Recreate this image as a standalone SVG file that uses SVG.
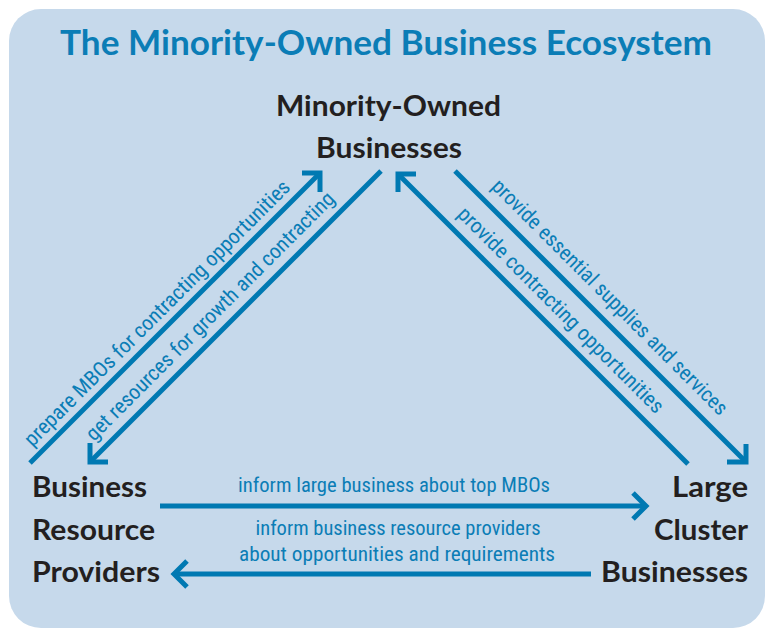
<svg xmlns="http://www.w3.org/2000/svg" width="766" height="629" viewBox="0 0 766 629">
<style>
.title{font-family:Lato,"Liberation Sans",sans-serif;font-weight:700;font-size:34px;fill:#0b7db6}
.node{font-family:Lato,"Liberation Sans",sans-serif;font-weight:700;font-size:28px;fill:#231f20}
.lab{font-family:"Liberation Sans Narrow","Roboto Condensed","Liberation Sans",sans-serif;font-size:21px;fill:#0b7db6}
.ln{stroke:#0079b2;stroke-width:5;fill:none;stroke-linecap:butt;stroke-linejoin:miter}
</style>
<rect width="766" height="629" fill="#ffffff"/>
<rect x="9" y="9" width="756" height="619" rx="32" fill="#c6d9eb"/>
<text class="title" x="386" y="55" text-anchor="middle" textLength="652" lengthAdjust="spacingAndGlyphs">The Minority-Owned Business Ecosystem</text>
<g id="mob">
<text class="node" x="388.5" y="116" text-anchor="middle" textLength="225" lengthAdjust="spacingAndGlyphs">Minority-Owned</text>
<text class="node" x="389" y="158" text-anchor="middle" textLength="146" lengthAdjust="spacingAndGlyphs">Businesses</text>
</g>
<g id="brp">
<text class="node" x="32" y="497" textLength="115" lengthAdjust="spacingAndGlyphs">Business</text>
<text class="node" x="32" y="540" textLength="123" lengthAdjust="spacingAndGlyphs">Resource</text>
<text class="node" x="32" y="582" textLength="128" lengthAdjust="spacingAndGlyphs">Providers</text>
</g>
<g id="lcb">
<text class="node" x="748" y="497" text-anchor="end" textLength="76" lengthAdjust="spacingAndGlyphs">Large</text>
<text class="node" x="748" y="540" text-anchor="end" textLength="94" lengthAdjust="spacingAndGlyphs">Cluster</text>
<text class="node" x="748" y="582" text-anchor="end" textLength="147" lengthAdjust="spacingAndGlyphs">Businesses</text>
</g>
<g id="connectors">
<line class="ln" x1="30" y1="463" x2="320" y2="173"/>
<polyline class="ln" points="302,173 320,173 320,192"/>
<line class="ln" x1="381" y1="171" x2="90" y2="462"/>
<polyline class="ln" points="90,443 90,462 108,462"/>
<line class="ln" x1="688" y1="464" x2="398" y2="174"/>
<polyline class="ln" points="398,192 398,174 416,174"/>
<line class="ln" x1="455" y1="171" x2="746" y2="462"/>
<polyline class="ln" points="746,444 746,462 727,462"/>
<line class="ln" x1="160" y1="506" x2="646" y2="506"/>
<polyline class="ln" points="633,493 646,506 633,519"/>
<line class="ln" x1="591" y1="574" x2="174" y2="574"/>
<polyline class="ln" points="187,561 174,574 187,587"/>
<text class="lab" transform="translate(162,318) rotate(-45)" text-anchor="middle" textLength="366" lengthAdjust="spacingAndGlyphs">prepare MBOs for contracting opportunities</text>
<text class="lab" transform="translate(215,321) rotate(-45)" text-anchor="middle" textLength="342" lengthAdjust="spacingAndGlyphs">get resources for growth and contracting</text>
<text class="lab" transform="translate(605,302) rotate(45)" text-anchor="middle" textLength="324" lengthAdjust="spacingAndGlyphs">provide essential supplies and services</text>
<text class="lab" transform="translate(556,315) rotate(45)" text-anchor="middle" textLength="282" lengthAdjust="spacingAndGlyphs">provide contracting opportunities</text>
<text class="lab" x="394" y="492" text-anchor="middle" textLength="312" lengthAdjust="spacingAndGlyphs">inform large business about top MBOs</text>
<text class="lab" x="398" y="535" text-anchor="middle" textLength="285" lengthAdjust="spacingAndGlyphs">inform business resource providers</text>
<text class="lab" x="397" y="561" text-anchor="middle" textLength="316" lengthAdjust="spacingAndGlyphs">about opportunities and requirements</text>
</g>
</svg>
